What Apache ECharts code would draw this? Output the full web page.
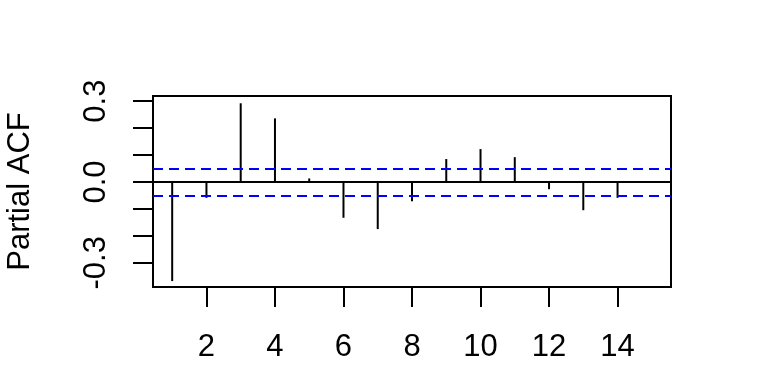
<!DOCTYPE html>
<html><head><meta charset="utf-8">
<script src="https://cdn.jsdelivr.net/npm/echarts@6/dist/echarts.min.js"></script>
<style>html,body{margin:0;padding:0;background:#fff}#c{width:768px;height:384px}</style>
</head><body><div id="c"></div>
<script>
const lags = [1, 2, 3, 4, 5, 6, 7, 8, 9, 10, 11, 12, 13, 14, 15];
const pacfValues = [-0.368, -0.059, 0.292, 0.236, 0.013, -0.133, -0.175, -0.072, 0.085, 0.122, 0.092, -0.027, -0.105, -0.059, 0.0];
const ciBound = 0.049;
const xTickValues = [2, 4, 6, 8, 10, 12, 14];
const yTickValues = [-0.3, -0.2, -0.1, 0.0, 0.1, 0.2, 0.3];
const yLabelValues = [-0.3, 0.0, 0.3];
const yAxisTitle = 'Partial ACF';

const FONT = "'Liberation Sans', Arial, sans-serif";
const FS = 31;
const chart = echarts.init(document.getElementById('c'), null, {renderer: 'canvas'});
chart.setOption({
  animation: false,
  backgroundColor: '#fff',
  grid: {left: 153, right: 97, top: 96, bottom: 97, show: true, borderColor: '#000', borderWidth: 2, backgroundColor: 'transparent', outerBoundsMode: 'none', containLabel: false},
  xAxis: {
    type: 'value', min: 0.44, max: 15.56,
    axisLine: {show: false, onZero: false},
    splitLine: {show: false},
    axisTick: {show: true, inside: false, length: 20, lineStyle: {color: '#000', width: 2}, customValues: xTickValues},
    axisLabel: {show: true, margin: 45, color: '#000', fontFamily: FONT, fontSize: FS, lineHeight: 31, customValues: xTickValues, formatter: v => String(v)}
  },
  yAxis: {
    type: 'value', min: -0.390, max: 0.319,
    name: yAxisTitle, nameLocation: 'middle', nameRotate: 90, nameGap: 117,
    nameTextStyle: {color: '#000', fontFamily: FONT, fontSize: FS, lineHeight: 31},
    axisLine: {show: false, onZero: false},
    splitLine: {show: false},
    axisTick: {show: true, inside: false, length: 20, lineStyle: {color: '#000', width: 2}, customValues: yTickValues},
    axisLabel: {show: true, rotate: 90, margin: 41, color: '#000', fontFamily: FONT, fontSize: FS, lineHeight: 31, customValues: yLabelValues, formatter: v => Number(v).toFixed(1)}
  },
  series: [{
    type: 'bar',
    data: lags.map((l, i) => [l, pacfValues[i]]),
    barWidth: 2,
    itemStyle: {color: '#000'},
    silent: true,
    z: 3,
    markLine: {
      silent: true, symbol: 'none', label: {show: false},
      data: [
        {yAxis: 0, lineStyle: {color: '#000', width: 2, type: 'solid'}},
        {yAxis: ciBound, lineStyle: {color: '#0000ff', width: 2, type: [10, 6]}},
        {yAxis: -ciBound, lineStyle: {color: '#0000ff', width: 2, type: [10, 6]}}
      ]
    }
  }]
});
</script>
</body></html>
